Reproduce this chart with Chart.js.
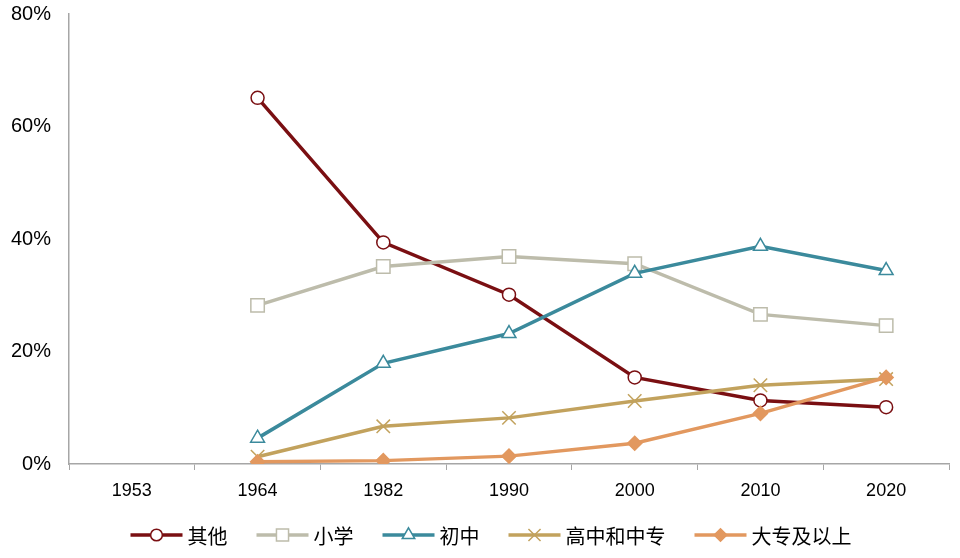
<!DOCTYPE html>
<html>
<head>
<meta charset="utf-8">
<script src="https://cdn.jsdelivr.net/npm/chart.js@4.4.1/dist/chart.umd.min.js"></script>
<style>
  html, body { margin: 0; padding: 0; background: #fff; }
  #wrap { width: 960px; height: 558px; position: relative; }
</style>
</head>
<body>
<div id="wrap"><canvas id="chart"></canvas></div>
<script>
// census years
const years = ['1953', '1964', '1982', '1990', '2000', '2010', '2020'];
const yTicks = [0, 20, 40, 60, 80];

// share of population by education level (%)
const other = [null, 65.1, 39.4, 30.1, 15.4, 11.3, 10.1];
const primary = [null, 28.2, 35.1, 36.9, 35.6, 26.6, 24.6];
const juniorHigh = [null, 4.6, 17.9, 23.2, 33.9, 38.7, 34.4];
const seniorHigh = [null, 1.3, 6.7, 8.2, 11.2, 14.0, 15.1];
const college = [null, 0.4, 0.6, 1.4, 3.7, 9.0, 15.4];

const seriesNames = ['其他', '小学', '初中', '高中和中专', '大专及以上'];

const FONT = '"Liberation Sans", Arial, sans-serif';
const CJK = '"Noto Sans CJK SC", "Liberation Sans", sans-serif';

function makeSet(label, data, color, style, radius, fill, order) {
  return {
    label: label,
    data: data,
    borderColor: color,
    backgroundColor: color,
    borderWidth: 3.5,
    pointStyle: style,
    pointRadius: radius,
    pointHoverRadius: radius,
    pointBackgroundColor: fill,
    pointBorderColor: color,
    pointBorderWidth: 1.5,
    tension: 0,
    order: order
  };
}

// draws legend items as line + marker, like the office-style legend
const lineLegend = {
  id: 'lineLegend',
  afterDraw(chart) {
    const ctx = chart.ctx;
    const sets = chart.data.datasets;
    const lineLen = 52, gapText = 5, gapItem = 29, y = 535;
    ctx.save();
    ctx.font = '20px ' + CJK;
    const widths = sets.map(ds => lineLen + gapText + ctx.measureText(ds.label).width);
    const total = widths.reduce((a, b) => a + b, 0) + gapItem * (sets.length - 1);
    let x = (chart.width - total) / 2 + 11;
    sets.forEach((ds, i) => {
      ctx.strokeStyle = ds.borderColor;
      ctx.lineWidth = 3.5;
      ctx.beginPath();
      ctx.moveTo(x, y);
      ctx.lineTo(x + lineLen, y);
      ctx.stroke();
      ctx.fillStyle = ds.pointBackgroundColor;
      ctx.strokeStyle = ds.pointBorderColor;
      ctx.lineWidth = ds.pointBorderWidth;
      Chart.helpers.drawPoint(ctx, {
        pointStyle: ds.pointStyle,
        radius: ds.pointRadius * 0.9,
        rotation: 0,
        borderWidth: ds.pointBorderWidth
      }, x + lineLen / 2, y);
      ctx.fillStyle = '#000';
      ctx.textBaseline = 'middle';
      ctx.textAlign = 'left';
      ctx.fillText(ds.label, x + lineLen + gapText, y + 1);
      x += widths[i] + gapItem;
    });
    ctx.restore();
  }
};

new Chart(document.getElementById('chart'), {
  type: 'line',
  data: {
    labels: years,
    datasets: [
      makeSet(seriesNames[0], other, '#7a0f12', 'circle', 6.5, '#fff', 4),
      makeSet(seriesNames[1], primary, '#bdbcab', 'rect', 9.5, '#fff', 3),
      makeSet(seriesNames[2], juniorHigh, '#3b8a9c', 'triangle', 8, '#fff', 2),
      makeSet(seriesNames[3], seniorHigh, '#c2a25d', 'crossRot', 9.5, '#c2a25d', 1),
      makeSet(seriesNames[4], college, '#e2985f', 'rectRot', 7, '#e2985f', 0)
    ]
  },
  options: {
    responsive: true,
    maintainAspectRatio: false,
    animation: false,
    spanGaps: true,
    layout: { padding: { top: 14, right: 10, bottom: 44, left: 0 } },
    plugins: {
      legend: { display: false },
      tooltip: { enabled: false }
    },
    scales: {
      x: {
        offset: true,
        grid: { display: true, drawOnChartArea: false, offset: true, tickLength: 6, color: '#a6a6a6', lineWidth: 1 },
        border: { display: true, color: '#a6a6a6', width: 1.5 },
        ticks: { color: '#000', font: { family: FONT, size: 18 }, padding: 10, maxRotation: 0 },
        afterFit(scale) { scale.height = 50; }
      },
      y: {
        min: 0,
        max: 80,
        afterBuildTicks(scale) { scale.ticks = yTicks.map(v => ({ value: v })); },
        grid: { display: false },
        border: { display: true, color: '#a6a6a6', width: 1.5 },
        ticks: {
          color: '#000',
          font: { family: FONT, size: 20 },
          padding: 10,
          callback: v => v + '%'
        },
        afterFit(scale) {
          scale.width = 69;
          scale.paddingTop = 0;
          scale.paddingBottom = 0;
        }
      }
    }
  },
  plugins: [lineLegend]
});
</script>
</body>
</html>
